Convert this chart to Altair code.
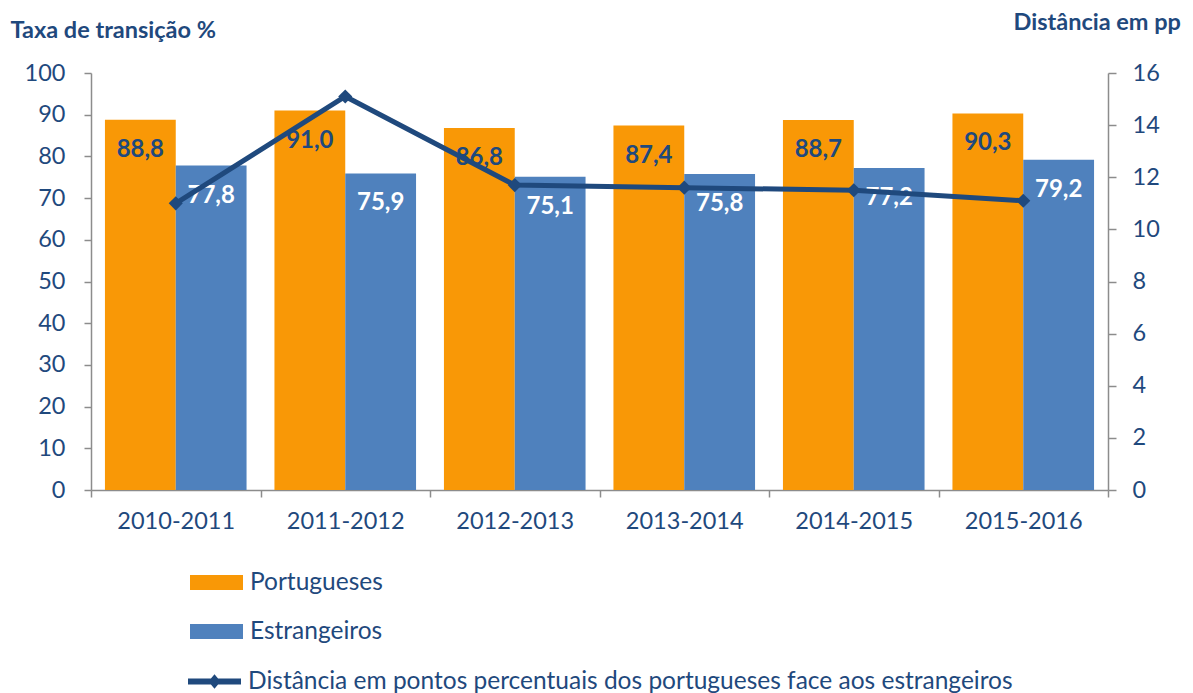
import altair as alt
import pandas as pd

anos = ["2010-2011", "2011-2012", "2012-2013", "2013-2014", "2014-2015", "2015-2016"]
portugueses = [88.8, 91.0, 86.8, 87.4, 88.7, 90.3]
estrangeiros = [77.8, 75.9, 75.1, 75.8, 77.2, 79.2]
distancia = [11.0, 15.1, 11.7, 11.6, 11.5, 11.1]

series = ["Portugueses", "Estrangeiros"]
line_name = "Distância em pontos percentuais dos portugueses face aos estrangeiros"

rows = []
for a, p, e in zip(anos, portugueses, estrangeiros):
    rows.append({"ano": a, "serie": "Portugueses", "valor": p, "label": f"{p:.1f}".replace(".", ",")})
    rows.append({"ano": a, "serie": "Estrangeiros", "valor": e, "label": f"{e:.1f}".replace(".", ",")})
bars_df = pd.DataFrame(rows)
line_df = pd.DataFrame({"ano": anos, "dist": distancia, "nome": [line_name] * len(anos)})

DARK = "#1F497D"
ORANGE = "#F99806"
BLUE = "#4F81BD"
AXIS_GRAY = "#8C8C8C"
FONT = "Lato"

x_enc = alt.X(
    "ano:N",
    sort=anos,
    scale=alt.Scale(paddingInner=0, paddingOuter=0),
    axis=alt.Axis(
        title=None,
        tickBand="extent",
        labelAngle=0,
        labelFontSize=23.5,
        labelColor=DARK,
        labelFont=FONT,
        labelPadding=12,
        tickSize=7,
        tickColor=AXIS_GRAY,
        domainColor=AXIS_GRAY,
        domainWidth=1.5,
        tickWidth=1.5,
    ),
)
xoff = alt.XOffset("serie:N", sort=series, scale=alt.Scale(domain=series, paddingOuter=0.197, paddingInner=0))

y_left = alt.Y(
    "valor:Q",
    scale=alt.Scale(domain=[0, 100], nice=False),
    axis=alt.Axis(
        title="Taxa de transição %",
        titleAngle=0,
        titleAlign="left",
        titleBaseline="alphabetic",
        titleX=-81,
        titleY=-36,
        titleFontSize=23.5,
        titleFontWeight="bold",
        titleColor=DARK,
        titleFont=FONT,
        values=list(range(0, 101, 10)),
        labelFontSize=23.5,
        labelColor=DARK,
        labelFont=FONT,
        labelPadding=19,
        tickSize=7,
        tickColor=AXIS_GRAY,
        domainColor=AXIS_GRAY,
        domainWidth=1.5,
        tickWidth=1.5,
        grid=False,
    ),
)

bars = alt.Chart(bars_df).mark_bar().encode(
    x=x_enc,
    xOffset=xoff,
    y=y_left,
    fill=alt.Fill(
        "serie:N",
        scale=alt.Scale(domain=series, range=[ORANGE, BLUE]),
        legend=alt.Legend(
            title=None,
            orient="none",
            legendX=99,
            legendY=483,
            direction="vertical",
            symbolType="M-1,-0.283H1V0.283H-1Z",
            symbolSize=2809,
            symbolStrokeWidth=0,
            labelFontSize=24.5,
            labelFont=FONT,
            labelColor=DARK,
            labelOffset=7,
            rowPadding=11,
            padding=0,
            labelLimit=1000,
        ),
    ),
)

text_pt = alt.Chart(bars_df).transform_filter(alt.datum.serie == "Portugueses").mark_text(
    baseline="middle", dy=30, fontSize=24, fontWeight="bold", font=FONT, color=DARK
).encode(
    x=alt.X("ano:N", sort=anos),
    xOffset=xoff,
    y=y_left,
    text="label:N",
)
text_es = alt.Chart(bars_df).transform_filter(alt.datum.serie == "Estrangeiros").mark_text(
    baseline="middle", dy=30, fontSize=24, fontWeight="bold", font=FONT, color="white"
).encode(
    x=alt.X("ano:N", sort=anos),
    xOffset=xoff,
    y=y_left,
    text="label:N",
)

left = alt.layer(bars, text_pt, text_es)

y_right = alt.Y(
    "dist:Q",
    scale=alt.Scale(domain=[0, 16], nice=False),
    axis=alt.Axis(
        orient="right",
        title="Distância em pp",
        titleAngle=0,
        titleAlign="left",
        titleBaseline="alphabetic",
        titleX=-95,
        titleY=-44,
        titleFontSize=23.5,
        titleFontWeight="bold",
        titleColor=DARK,
        titleFont=FONT,
        values=list(range(0, 17, 2)),
        labelFontSize=23.5,
        labelColor=DARK,
        labelFont=FONT,
        labelPadding=16,
        tickSize=8,
        tickColor=AXIS_GRAY,
        domainColor=AXIS_GRAY,
        domainWidth=1.5,
        tickWidth=1.5,
        grid=False,
    ),
)

line = alt.Chart(line_df).mark_line(strokeWidth=5).encode(
    x=alt.X("ano:N", sort=anos),
    y=y_right,
    stroke=alt.Stroke(
        "nome:N",
        scale=alt.Scale(domain=[line_name], range=[DARK]),
        legend=alt.Legend(
            title=None,
            orient="none",
            legendX=97,
            legendY=582,
            symbolType="M-1,-0.11H1V0.11H-1Z M0,-0.27L0.23,0L0,0.27L-0.23,0Z",
            symbolSize=2809,
            symbolFillColor=DARK,
            symbolStrokeWidth=0,
            labelFontSize=24.5,
            labelFont=FONT,
            labelColor=DARK,
            labelOffset=7,
            padding=0,
            labelLimit=1200,
        ),
    ),
)
points = alt.Chart(line_df).mark_point(shape="diamond", filled=True, size=200, color=DARK, opacity=1).encode(
    x=alt.X("ano:N", sort=anos),
    y=y_right,
)

right = alt.layer(line, points)

chart = (
    alt.layer(left, right)
    .resolve_scale(y="independent")
    .properties(
        width=1017,
        height=417,
        autosize=alt.AutoSizeParams(type="none"),
        padding={"left": 83, "top": 65, "right": 77, "bottom": 205},
        background="white",
    )
    .configure_view(stroke=None)
)

chart.save("out.html", embed_options={"renderer": "svg", "actions": False})
